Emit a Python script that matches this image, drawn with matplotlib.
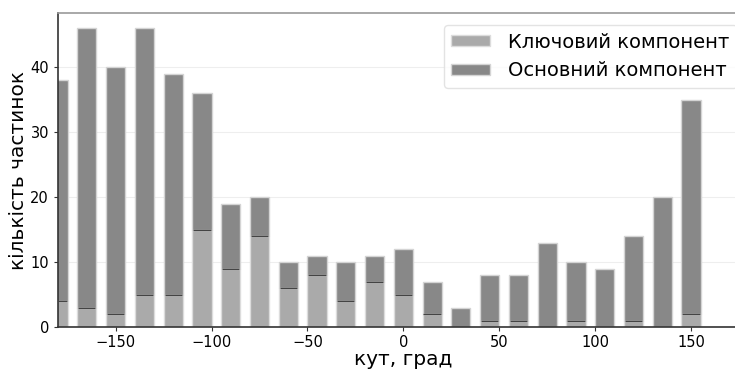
import matplotlib.pyplot as plt
import numpy as np

# bin centres (degrees) and counts per component
angles = [-180, -165, -150, -135, -120, -105, -90, -75, -60, -45, -30, -15,
          0, 15, 30, 45, 60, 75, 90, 105, 120, 135, 150]
key_counts = [4, 3, 2, 5, 5, 15, 9, 14, 6, 8, 4, 7,
              5, 2, 0, 1, 1, 0, 1, 0, 1, 0, 2]
total_counts = [38, 46, 40, 46, 39, 36, 19, 20, 10, 11, 10, 11,
                12, 7, 3, 8, 8, 13, 10, 9, 14, 20, 35]

x = np.array(angles)
key = np.array(key_counts)
main = np.array(total_counts) - key
w = 10

fig = plt.figure(figsize=(7.35, 3.7), dpi=100)
ax = fig.add_axes([0.079, 0.116, 0.9395, 0.8486])

ax.bar(x, key, width=w, color='#aaaaaa', edgecolor='#dcdcdc', linewidth=1.0,
       label='Ключовий компонент', zorder=2)
ax.bar(x, main, width=w, bottom=key, color='#888888', edgecolor='#d4d4d4',
       linewidth=1.0, label='Основний компонент', zorder=2)
# thin separator between the two parts
m = key > 0
ax.hlines(key[m], x[m] - w / 2 + 0.5, x[m] + w / 2 - 0.5, color='#444444',
          linewidth=0.9, zorder=3)

ax.set_xlim(-180, 180)
ax.set_ylim(0, 48.3)
ax.set_xticks([-150, -100, -50, 0, 50, 100, 150])
ax.set_yticks([0, 10, 20, 30, 40])
ax.tick_params(labelsize=10.5, length=3, color='#333333')
ax.tick_params(axis='x', pad=2.5)
ax.grid(axis='y', color='#eeeeee', linewidth=0.8, zorder=0)
ax.set_axisbelow(True)

ax.spines['top'].set_color('#999999')
ax.spines['top'].set_linewidth(1.2)
ax.spines['right'].set_visible(False)
ax.spines['left'].set_color('#333333')
ax.spines['bottom'].set_color('#333333')
ax.spines['left'].set_linewidth(1.2)
ax.spines['bottom'].set_linewidth(1.2)

ax.set_xlabel('кут, град', fontsize=14.5, labelpad=0)
ax.set_ylabel('кількість частинок', fontsize=14.5, labelpad=2)

ax.legend(loc='upper right', fontsize=14, frameon=True, edgecolor='#dddddd',
          handlelength=2.0, handleheight=0.5, handletextpad=0.9,
          borderaxespad=0.6)

fig.savefig('out.png', dpi=100)
